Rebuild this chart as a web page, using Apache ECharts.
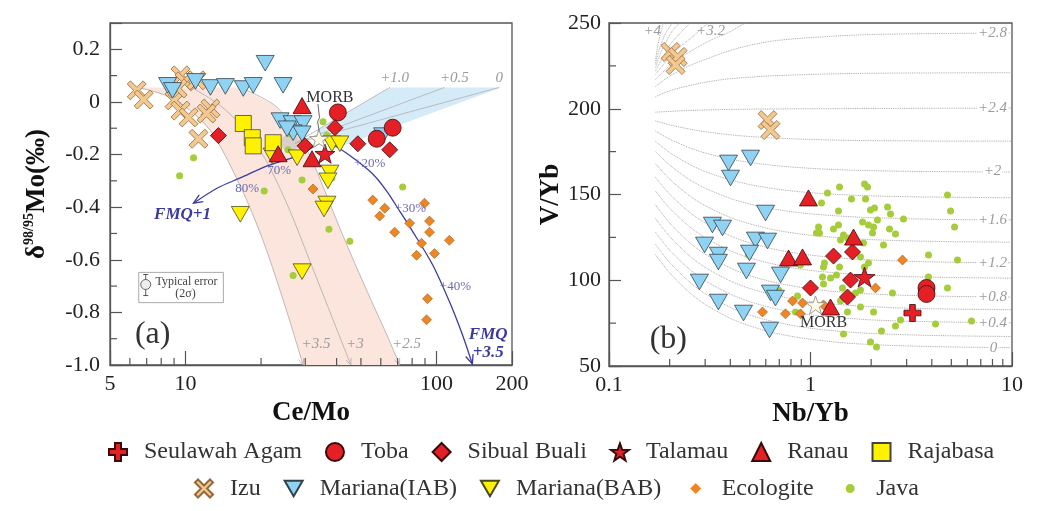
<!DOCTYPE html>
<html><head><meta charset="utf-8">
<script src="https://cdn.jsdelivr.net/npm/echarts/dist/echarts.min.js"></script>
<style>html,body{margin:0;padding:0;background:#fff}#c{width:1045px;height:511px}</style>
</head><body><div id="c"></div>
<script>
const SERIF = "'Liberation Serif','Times New Roman',serif";

// ---------- Panel (a): [Ce/Mo, d98/95Mo] ----------
const izuA = [[6.39,0.044],[6.81,0.009],[9.55,0.101],[9.91,0.078],[11.06,0.082],[9.04,0.006],[9.55,-0.033],[10.28,-0.059],[12.57,-0.025],[12.12,-0.044],[11.26,-0.140],[9.30,0.051]];
const iabA = [[20.77,0.147],[8.48,0.063],[8.88,0.044],[10.96,0.078],[12.57,0.055],[14.41,0.059],[16.99,0.051],[18.61,0.063],[24.48,0.063],[23.82,-0.071],[26.58,-0.082],[29.40,-0.082],[26.83,-0.117],[29.13,-0.121],[25.39,-0.102],[61.05,-0.128]];
const babA = [[22.14,-0.205],[27.83,-0.212],[38.31,-0.159],[41.22,-0.159],[37.62,-0.270],[36.94,-0.300],[36.61,-0.388],[35.63,-0.407],[16.53,-0.427],[29.13,-0.645]];
const rajA = [[16.99,-0.082],[18.45,-0.136],[18.61,-0.167],[22.35,-0.155]];
const tobaA = [[40.47,-0.040],[66.90,-0.098],[57.80,-0.140]];
const sibA = [[13.52,-0.128],[39.38,-0.098],[29.94,-0.167],[48.60,-0.159],[65.10,-0.182]];
const talA = [[35.94,-0.197]];
const ranA = [[29.13,-0.014],[23.39,-0.197],[31.92,-0.216]];
const ecoA = [[32.21,-0.331],[55.72,-0.373],[62.20,-0.404],[59.40,-0.434],[89.6,-0.385],[78.16,-0.461],[93.8,-0.453],[68.13,-0.495],[93.8,-0.495],[87.2,-0.537],[112.6,-0.526],[83.3,-0.583],[98.2,-0.576],[92.1,-0.748],[91.3,-0.828]];
const javaA = [[10.76,-0.212],[9.47,-0.281],[20.58,-0.339],[29.13,-0.297],[26.10,-0.121],[25.62,-0.182],[35.30,-0.075],[36.61,-0.128],[38.31,-0.289],[73.31,-0.323],[37.28,-0.484],[45.17,-0.530],[26.83,-0.660]];
const morbA = [[34.03,-0.140]];

// model features in panel (a)
const band35 = [[6.45,0.055],[8.33,0.025],[10.47,-0.033],[12.57,-0.109],[14.41,-0.205],[16.53,-0.320],[18.45,-0.423],[20.77,-0.549],[23.18,-0.683],[26.10,-0.836],[29.4,-1.0]];
const band30 = [[10.76,0.051],[13.77,-0.014],[16.99,-0.098],[19.49,-0.174],[21.74,-0.251],[26.10,-0.415],[31.33,-0.606],[37.62,-0.798],[45.58,-1.0]];
const band25 = [[16.53,0.055],[22.76,-0.014],[27.32,-0.109],[31.33,-0.205],[35.94,-0.339],[41.22,-0.480],[47.28,-0.614],[55.22,-0.759],[63.93,-0.893],[71.33,-1.0]];
const fanArea = [[33.1,-0.109],[65.1,0.055],[181.1,0.055],[39.38,-0.178]];
const fanOrigin = [27.3,-0.157];
const fanTops = [[65.1,0.055],[107.6,0.055],[177.8,0.055]];
const blobCenter = [26.1,-0.155];
const fmq1Curve = [[35.30,-0.147],[27.83,-0.205],[21.15,-0.243],[16.53,-0.289],[13.40,-0.327],[10.76,-0.385]];
const fmq35Curve = [[35.30,-0.140],[41.22,-0.178],[46.42,-0.212],[55.72,-0.274],[63.34,-0.339],[71.33,-0.415],[80.32,-0.492],[96.4,-0.618],[112.6,-0.759],[126.9,-0.885],[139.0,-0.996]];
const morbPointer = [[33.7,-0.008],[34.2,-0.06],[33.6,-0.075],[34.1,-0.112]];
const errorBox = [[6.51,-0.648],[14.15,-0.763]];
const errorPoint = [6.94,-0.694];
const errorBar = [-0.656,-0.736];
const minorAx = [6,7,8,9,20,30,40,50,60,70,80,90];
const minorAy = [-0.9,-0.7,-0.5,-0.3,-0.1,0.1];

const textAfo2 = [[33.1,-0.92,'+3.5'],[47.28,-0.92,'+3'],[76.0,-0.92,'+2.5'],[68.13,0.09,'+1.0'],[117.9,0.09,'+0.5'],[177.8,0.09,'0']];
const textApct = [[23.6,-0.262,'70%'],[17.62,-0.331,'80%'],[54.22,-0.235,'+20%'],[78.86,-0.407,'+30%'],[119.0,-0.702,'+40%']];
const textAfmq = [[9.73,-0.427,'FMQ+1'],[160.8,-0.885,'FMQ'],[160.8,-0.954,'+3.5']];
const textAmorb = [[37.62,0.017,'MORB']];
const textAerr = [[10.09,-0.683,'Typical error'],[10.0,-0.729,'(2σ)']];
const textApanel = [[7.4,-0.885,'(a)']];

// ---------- Panel (b): [Nb/Yb, V/Yb] ----------
const izuB = [[0.202,233.1],[0.219,230.2],[0.214,225.5],[0.612,193.4],[0.633,187.6]];
const iabB = [[0.392,168.4],[0.504,171.3],[0.401,159.6],[0.598,139.2],[0.326,132.2],[0.366,130.5],[0.298,120.6],[0.533,123.5],[0.612,122.9],[0.349,114.7],[0.349,110.6],[0.498,115.9],[0.481,105.4],[0.710,103.1],[0.281,99.0],[0.349,87.3],[0.465,80.9],[0.633,92.6],[0.670,89.6],[0.626,71.0]];
const ranB = [[0.977,148.0],[1.635,125.2],[0.778,113.0],[0.913,113.6],[1.257,84.4]];
const sibB = [[1.301,114.1],[1.616,116.5],[1.0,95.5],[1.579,100.1],[1.526,90.2]];
const talB = [[1.854,101.9]];
const tobaB = [[3.764,95.5],[3.764,92.0]];
const seuB = [[3.207,80.9]];
const morbB = [[1.059,85.6]];
const ecoB = [[0.578,81.5],[0.751,80.4],[0.814,87.9],[0.913,86.7],[0.892,80.4],[1.160,85.6],[2.102,95.5],[2.861,111.8]];
const javaB = [[1.854,156.1],[1.918,154.4],[1.393,154.4],[1.214,150.9],[1.597,147.4],[1.875,147.4],[1.134,145.0],[1.377,140.4],[1.985,141.0],[2.078,142.1],[2.411,142.7],[2.495,138.6],[2.894,135.7],[2.150,135.1],[1.812,134.0],[1.940,132.2],[2.055,131.0],[1.377,132.2],[1.301,129.9],[1.096,131.0],[1.071,127.5],[2.466,129.9],[2.641,127.0],[1.409,123.5],[1.526,124.6],[2.031,127.5],[1.832,121.7],[2.303,120.6],[1.458,126.4],[4.785,149.7],[4.953,140.4],[5.185,131.0],[3.851,114.7],[5.364,111.8],[1.173,110.1],[1.160,107.7],[1.393,107.7],[1.346,103.1],[1.257,101.3],[1.147,101.9],[1.854,107.7],[1.940,110.1],[1.770,113.6],[1.441,95.5],[1.160,97.8],[1.672,92.6],[3.851,101.9],[4.785,95.5],[2.552,92.6],[1.770,94.3],[1.409,87.9],[1.526,81.5],[1.770,84.4],[2.055,81.5],[2.797,76.8],[2.641,73.3],[4.172,74.5],[6.295,76.2],[1.458,68.7],[2.251,70.4],[1.985,64.0],[2.126,61.1],[0.694,94.3],[0.843,81.5],[0.892,108.9],[1.108,127.5],[0.492,114.7],[0.862,90.8]];

// fO2 model curves in panel (b)
const nbGrid = [0.17,0.2,0.25,0.3,0.4,0.5,0.65,0.85,1.1,1.5,2,3,5,10];
const lowerCurves = [
  [115,104.3,93.0,86.0,77.8,73.4,69.5,66.8,65.0,63.4,62.5,61.7,61.1,60.7],
  [121,110.4,99.2,92.2,84.2,79.7,76.0,73.3,71.4,69.9,69.0,68.2,67.6,67.2],
  [128,117.6,106.6,99.8,91.9,87.5,83.8,81.1,79.3,77.9,76.9,76.1,75.6,75.2],
  [136,125.5,114.4,107.5,99.6,95.2,91.5,88.8,87.0,85.5,84.6,83.7,83.2,82.8],
  [144,133.4,122.2,115.2,107.2,102.7,99.0,96.3,94.4,92.9,92.0,91.2,90.6,90.2],
  [152,142.0,131.4,124.8,117.2,113.0,109.5,106.9,105.2,103.8,102.9,102.1,101.6,101.2],
  [160,150.2,139.8,133.4,125.9,121.8,118.3,115.8,114.1,112.7,111.8,111.1,110.5,110.2],
  [168,159.0,149.4,143.5,136.6,132.9,129.6,127.3,125.8,124.5,123.7,123.0,122.5,122.2],
  [175,167.2,158.8,153.7,147.7,144.4,141.6,139.6,138.3,137.2,136.5,135.9,135.4,135.2],
  [181,174.5,167.7,163.4,158.5,155.8,153.5,151.8,150.7,149.8,149.2,148.7,148.4,148.1],
  [187,182.3,177.3,174.2,170.6,168.7,167.0,165.8,165.0,164.3,163.9,163.5,163.3,163.1],
  [193,190.6,188.2,186.6,184.8,183.8,183.0,182.4,182.0,181.6,181.4,181.3,181.1,181.1]
];
const upperCurves = [
  [[0.17,198],[0.25,199],[0.4,199.6],[1,200],[10,200.4]],
  [[0.17,207],[0.2,210.5],[0.25,213.5],[0.32,216],[0.4,217.5],[0.6,219],[1,220],[2,220.7],[10,221]],
  [[0.17,213],[0.2,219],[0.25,225],[0.32,230],[0.4,234],[0.5,237],[0.65,239.5],[1,241.5],[2,243.3],[10,244.2]],
  [[0.17,217],[0.2,225],[0.25,233],[0.32,240],[0.4,245],[0.476,250],[0.6,254],[0.8,258]],
  [[0.17,220],[0.19,227],[0.22,235],[0.26,242],[0.312,250],[0.4,257]],
  [[0.17,222],[0.185,230],[0.2,237],[0.225,244],[0.2537,250],[0.3,257]],
  [[0.17,224],[0.18,232],[0.19,238],[0.205,245],[0.224,250],[0.26,258]],
  [[0.17,226],[0.175,232],[0.183,239],[0.193,245],[0.2066,250],[0.23,258]],
  [[0.17,228],[0.173,234],[0.177,240],[0.181,245],[0.1864,250],[0.2,260]]
];
const minorBx = [0.2,0.3,0.4,0.5,0.6,0.7,0.8,0.9,2,3,4,5,6,7,8,9];
const minorBy = [75,125,175,225];
const textBfo2 = [[8.0,244.2,'+2.8'],[8.0,200.4,'+2.4'],[8.0,163.5,'+2'],[8.0,135.1,'+1.6'],[8.0,110.1,'+1.2'],[8.0,90.2,'+0.8'],[8.0,75.1,'+0.4'],[8.1,60.7,'0']];
const textBtop = [[0.164,245.5,'+4'],[0.319,245.5,'+3.2']];
const textBmorb = [[1.16,75.1,'MORB']];
const textBpanel = [[0.197,65.2,'(b)']];

const legendRow1 = ['Seulawah Agam','Toba','Sibual Buali','Talamau','Ranau','Rajabasa'];
const legendRow2 = ['Izu','Mariana(IAB)','Mariana(BAB)','Ecologite','Java'];

// ---------- styles ----------
const RED = '#e41f26', REDB = '#3a0a0a';
const SYM = {
  plus: 'path://M-1,-3L1,-3L1,-1L3,-1L3,1L1,1L1,3L-1,3L-1,1L-3,1L-3,-1L-1,-1Z',
  ex: 'path://M-3,-2L-2,-3L0,-1L2,-3L3,-2L1,0L3,2L2,3L0,1L-2,3L-3,2L-1,0Z',
  star: 'path://M0,-10L2.35,-3.24L9.51,-3.09L3.8,1.24L5.88,8.09L0,4L-5.88,8.09L-3.8,1.24L-9.51,-3.09L-2.35,-3.24Z',
  down: 'path://M-5,-4.33L5,-4.33L0,4.33Z'
};
function sc(name, data, gi, sym, size, color, border, bw, z) {
  return {type:'scatter', name, data, xAxisIndex:gi, yAxisIndex:gi, symbol:sym, symbolSize:size,
    symbolKeepAspect:true, itemStyle:{color, borderColor:border, borderWidth:bw, opacity:1},
    z, silent:true, emphasis:{disabled:true}, animation:false};
}
function arrowV(a, b, len, spread) {
  const ang = Math.atan2(b[1]-a[1], b[0]-a[0]);
  return [[b[0]-len*Math.cos(ang-spread), b[1]-len*Math.sin(ang-spread)], [b[0], b[1]],
          [b[0]-len*Math.cos(ang+spread), b[1]-len*Math.sin(ang+spread)]];
}
function pl(pts, stroke, w, smooth) {
  return {type:'polyline', shape:{points:pts, smooth:smooth||0}, style:{stroke, lineWidth:w, fill:null}};
}

function bgA(params, api) {
  const c = p => api.coord(p);
  const ch = [];
  ch.push({type:'polygon', shape:{points: band35.concat(band25.slice().reverse()).map(c)}, style:{fill:'#fbe5dc'}});
  ch.push({type:'polygon', shape:{points: fanArea.map(c)}, style:{fill:'#d5ebf8'}});
  fanTops.forEach(t => ch.push(pl([c(fanOrigin), c(t)], '#b0b0b0', 0.8)));
  [band35, band30, band25].forEach(b => {
    const pts = b.map(c);
    ch.push(pl(pts, '#ababab', 0.8, 0.3));
    ch.push(pl(arrowV(pts[pts.length-2], pts[pts.length-1], 7, 0.4), '#ababab', 0.8));
  });
  const bp = c(blobCenter);
  ch.push({type:'circle', shape:{cx:bp[0], cy:bp[1], r:9}, style:{fill:'rgba(185,185,185,0.5)'}});
  [fmq1Curve, fmq35Curve].forEach(b => {
    const pts = b.map(c);
    ch.push(pl(pts, '#3c3c9e', 1.3, 0.3));
    ch.push(pl(arrowV(pts[pts.length-2], pts[pts.length-1], 10, 0.4), '#3c3c9e', 1.3));
  });
  ch.push(pl(morbPointer.map(c), '#555', 0.9));
  const b0 = c(errorBox[0]), b1 = c(errorBox[1]);
  ch.push({type:'rect', shape:{x:b0[0], y:b0[1], width:b1[0]-b0[0], height:b1[1]-b0[1]}, style:{fill:'#fff', stroke:'#aaa', lineWidth:1}});
  const e0 = c([errorPoint[0], errorBar[0]]), e1 = c([errorPoint[0], errorBar[1]]), ep = c(errorPoint);
  ch.push(pl([e0, e1], '#444', 0.9));
  ch.push(pl([[e0[0]-2.5,e0[1]],[e0[0]+2.5,e0[1]]], '#444', 0.9));
  ch.push(pl([[e1[0]-2.5,e1[1]],[e1[0]+2.5,e1[1]]], '#444', 0.9));
  ch.push({type:'circle', shape:{cx:ep[0], cy:ep[1], r:5}, style:{fill:'#eee', stroke:'#555', lineWidth:0.9}});
  minorAx.forEach(v => { const p = c([v, -1.0]); ch.push(pl([p, [p[0], p[1]-7]], '#555', 1.2)); });
  minorAy.forEach(v => { const p = c([5, v]); ch.push(pl([p, [p[0]+7, p[1]]], '#555', 1.2)); });
  return {type:'group', children: ch};
}
function bgB(params, api) {
  const c = p => api.coord(p);
  const ch = [];
  minorBx.forEach(v => { const p = c([v, 50]); ch.push(pl([p, [p[0], p[1]-7]], '#555', 1.2)); });
  minorBy.forEach(v => { const p = c([0.1, v]); ch.push(pl([p, [p[0]+7, p[1]]], '#555', 1.2)); });
  return {type:'group', children: ch};
}
const TS = {
  fo2: {fill:'#9b9b9b', fontSize:15, fontStyle:'italic', fontFamily:SERIF},
  fo2bg: {fill:'#9b9b9b', fontSize:15, fontStyle:'italic', fontFamily:SERIF, backgroundColor:'#fff', padding:[0,1]},
  pct: {fill:'#6a6ab4', fontSize:13, fontFamily:SERIF},
  fmq: {fill:'#3a3a9c', fontSize:17, fontStyle:'italic', fontWeight:'bold', fontFamily:SERIF},
  morb: {fill:'#333', fontSize:16, fontFamily:SERIF},
  err: {fill:'#444', fontSize:12, fontFamily:SERIF},
  panel: {fill:'#333', fontSize:32, fontFamily:SERIF}
};
function textLayer(groups) {
  return function (params, api) {
    const ch = [];
    groups.forEach(([items, st]) => items.forEach(it => {
      const p = api.coord([it[0], it[1]]);
      ch.push({type:'text', x:p[0], y:p[1], style:Object.assign({text:it[2], align:'center', verticalAlign:'middle'}, st)});
    }));
    return {type:'group', children: ch};
  };
}
function custom(gi, render, z, anchor) {
  return {type:'custom', xAxisIndex:gi, yAxisIndex:gi, data:[anchor], renderItem:render, z, silent:true, animation:false};
}

const series = [];
series.push(custom(0, bgA, 1, [10, 0]));
series.push(custom(1, bgB, 1, [1, 100]));
lowerCurves.forEach(vals => series.push({type:'line', xAxisIndex:1, yAxisIndex:1, data: nbGrid.map((x,i)=>[x, vals[i]]),
  smooth:0.3, symbol:'none', lineStyle:{color:'#9e9e9e', width:0.9, type:'dotted'}, z:2, silent:true, animation:false}));
upperCurves.forEach(pts => series.push({type:'line', xAxisIndex:1, yAxisIndex:1, data: pts,
  smooth:0.3, symbol:'none', lineStyle:{color:'#9e9e9e', width:0.9, type:'dotted'}, z:2, silent:true, animation:false}));

const TAN='#f3c990', TANB='#94693c', BLU='#8fd3f4', BLUB='#33414b', YEL='#fff200', YELB='#4a4a20', ORA='#ee8624', ORAB='#8a4a10', GRN='#a5cc3a';
// panel a
series.push(sc('Java', javaA, 0, 'circle', 7, GRN, GRN, 0, 3));
series.push(sc('Ecologite', ecoA, 0, 'diamond', 10, ORA, ORAB, 0.5, 3));
series.push(sc('Izu', izuA, 0, SYM.ex, 19, TAN, TANB, 0.8, 4));
series.push(sc('Mariana(IAB)', iabA, 0, SYM.down, 18, BLU, BLUB, 0.8, 4));
series.push(sc('Mariana(BAB)', babA, 0, SYM.down, 18, YEL, YELB, 0.8, 4));
series.push(sc('Rajabasa', rajA, 0, 'rect', 16, YEL, '#444', 0.8, 4));
series.push(sc('Toba', tobaA, 0, 'circle', 17, RED, REDB, 0.8, 5));
series.push(sc('Sibual Buali', sibA, 0, 'diamond', 16, RED, REDB, 0.8, 5));
series.push(sc('Ranau', ranA, 0, 'triangle', [18,16], RED, REDB, 0.8, 5));
series.push(sc('Talamau', talA, 0, SYM.star, 20, RED, REDB, 0.8, 5));
series.push(sc('MORB', morbA, 0, SYM.star, 19, '#fffbe4', '#888', 0.8, 6));
// panel b
series.push(sc('Java', javaB, 1, 'circle', 7, GRN, GRN, 0, 3));
series.push(sc('Ecologite', ecoB, 1, 'diamond', 10, ORA, ORAB, 0.5, 3));
series.push(sc('Izu', izuB, 1, SYM.ex, 19, TAN, TANB, 0.8, 4));
series.push(sc('Mariana(IAB)', iabB, 1, SYM.down, 18, BLU, BLUB, 0.8, 4));
series.push(sc('Toba', tobaB, 1, 'circle', 17, RED, REDB, 0.8, 5));
series.push(sc('Sibual Buali', sibB, 1, 'diamond', 16, RED, REDB, 0.8, 5));
series.push(sc('Ranau', ranB, 1, 'triangle', [18,16], RED, REDB, 0.8, 5));
series.push(sc('Talamau', talB, 1, SYM.star, 21, RED, REDB, 0.8, 5));
series.push(sc('Seulawah Agam', seuB, 1, SYM.plus, 17, RED, REDB, 0.8, 5));
series.push(sc('MORB', morbB, 1, SYM.star, 19, '#fffbe4', '#888', 0.8, 6));
// texts
series.push(custom(0, textLayer([[textAfo2, TS.fo2],[textApct, TS.pct],[textAfmq, TS.fmq],[textAmorb, TS.morb],[textAerr, TS.err],[textApanel, TS.panel]]), 10, [10, 0]));
series.push(custom(1, textLayer([[textBfo2, TS.fo2bg],[textBtop, TS.fo2],[textBmorb, TS.morb],[textBpanel, TS.panel]]), 10, [1, 100]));

const axisLine = {show:true, onZero:false, lineStyle:{color:'#555', width:1.3}};
const lbl = {fontFamily:SERIF, fontSize:22, color:'#222'};
const nameStyle = {fontFamily:SERIF, fontWeight:'bold', fontSize:27, color:'#111'};
const logFmt = v => v < 1 ? v.toFixed(1) : String(Math.round(v));

const option = {
  animation:false,
  backgroundColor:'#fff',
  grid:[
    {left:110, top:23, width:402, height:342, show:true, borderColor:'#555', borderWidth:1.3, backgroundColor:'transparent', outerBoundsMode:'none'},
    {left:609, top:23, width:403, height:343, show:true, borderColor:'#555', borderWidth:1.3, backgroundColor:'transparent', outerBoundsMode:'none'}
  ],
  xAxis:[
    {type:'log', logBase:10, gridIndex:0, min:5, max:200, axisLine, splitLine:{show:false},
     axisTick:{inside:true, length:14, lineStyle:{color:'#555', width:1.2}},
     axisLabel:Object.assign({margin:8, formatter:logFmt}, lbl),
     name:'Ce/Mo', nameLocation:'middle', nameGap:28, nameTextStyle:nameStyle},
    {type:'log', logBase:10, gridIndex:1, min:0.1, max:10, axisLine, splitLine:{show:false},
     axisTick:{inside:true, length:14, lineStyle:{color:'#555', width:1.2}},
     axisLabel:Object.assign({margin:8, formatter:logFmt}, lbl),
     name:'Nb/Yb', nameLocation:'middle', nameGap:28, nameTextStyle:nameStyle}
  ],
  yAxis:[
    {type:'value', gridIndex:0, min:-1.0, max:0.3, interval:0.2, axisLine, splitLine:{show:false},
     axisTick:{inside:true, length:12, lineStyle:{color:'#555', width:1.2}},
     axisLabel:Object.assign({margin:10, formatter: v => Math.abs(v) < 1e-9 ? '0' : (Math.abs(v-0.3) < 1e-9 ? '' : v.toFixed(1))}, lbl),
     name:'{d|δ}{s|98/95}{d|Mo(‰)}', nameLocation:'middle', nameGap:58,
     nameTextStyle:Object.assign({}, nameStyle, {rich:{
       d:{fontFamily:SERIF, fontWeight:'bold', fontSize:27, color:'#111'},
       s:{fontFamily:SERIF, fontSize:14, color:'#111', verticalAlign:'top', lineHeight:30}}})},
    {type:'value', gridIndex:1, min:50, max:250, interval:50, axisLine, splitLine:{show:false},
     axisTick:{inside:true, length:12, lineStyle:{color:'#555', width:1.2}},
     axisLabel:Object.assign({margin:8}, lbl),
     name:'V/Yb', nameLocation:'middle', nameGap:42, nameTextStyle:nameStyle}
  ],
  legend:[
    {data:legendRow1, left:103, top:435, itemWidth:18, itemHeight:18, itemGap:23, selectedMode:false,
     textStyle:{fontFamily:SERIF, fontSize:24, color:'#333', padding:[0,0,0,12]}},
    {data:[{name:'Izu'},{name:'Mariana(IAB)'},{name:'Mariana(BAB)'},
           {name:'Ecologite', itemStyle:{borderColor:'#fff', borderWidth:5}},
           {name:'Java', itemStyle:{borderColor:'#fff', borderWidth:9}}],
     left:189, top:470, itemWidth:18, itemHeight:18, itemGap:23, selectedMode:false,
     textStyle:{fontFamily:SERIF, fontSize:24, color:'#333', padding:[0,0,0,12]}}
  ],
  series
};
const chart = echarts.init(document.getElementById('c'));
chart.setOption(option);
</script></body></html>
